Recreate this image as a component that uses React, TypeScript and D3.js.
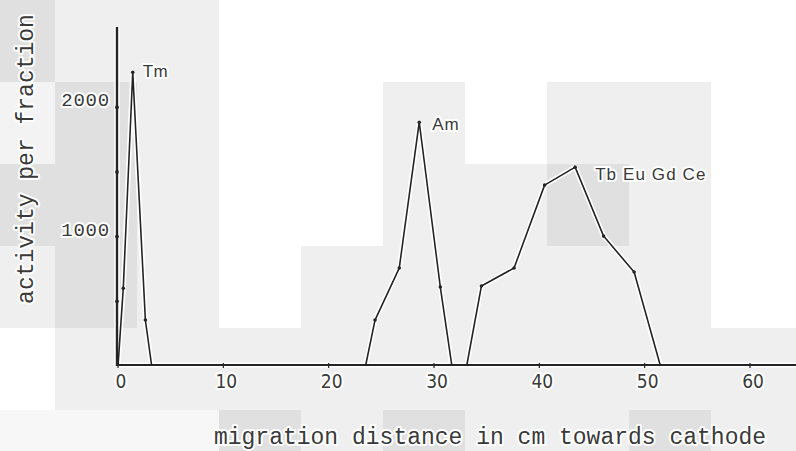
import React from "react";
import * as d3 from "d3";

const WIDTH = 796;
const HEIGHT = 451;

// Fraction positions (cm from start) and measured activity per fraction
const tmDistance = [0, 0.5, 1.4, 2.6, 3.2];
const tmActivity = [0, 600, 2270, 355, 0];

const amDistance = [23.5, 24.4, 26.7, 28.6, 30.6, 31.7];
const amActivity = [0, 355, 757, 1884, 610, 0];

const tbDistance = [33.1, 34.5, 37.6, 40.5, 43.4, 46.1, 49.0, 51.5];
const tbActivity = [0, 618, 757, 1398, 1537, 1004, 726, 0];

const peakNames = ["Tm", "Am", "Tb Eu Gd Ce"];

const xTickValues = [0, 10, 20, 30, 40, 50, 60];
const yTickMarks = [500, 1000, 1500, 2000];
const yTickLabels = [1000, 2000];

const xTitle = "migration distance in cm towards cathode";
const yTitle = "activity per fraction";

// Paper tone tiles behind the plot
const tileX = [0, 55, 137, 219, 301, 383, 465, 547, 629, 711, 796];
const tileY = [0, 82, 164, 246, 328, 410, 451];
const tileRows = [
  "DLLWWWWWWW",
  "VDLWWLWLLW",
  "DDLWWLLDLW",
  "LDLWLLLLLW",
  "WLLLLLLLLL",
  "PPPDLDLLDL",
];
const tileTone: Record<string, string> = {
  D: "#e0e0e0",
  L: "#efefef",
  W: "#ffffff",
  V: "#f3f3f3",
  P: "#f7f7f7",
};

const x = d3.scaleLinear().domain([0, 60]).range([118, 750]);
const y = d3.scaleLinear().domain([0, 2620]).range([366, 27]);

const series = [
  { name: peakNames[0], distance: tmDistance, activity: tmActivity, dx: 10, dy: 5, spacing: 0.5 },
  { name: peakNames[1], distance: amDistance, activity: amActivity, dx: 13, dy: 8, spacing: 0.8 },
  { name: peakNames[2], distance: tbDistance, activity: tbActivity, dx: 20, dy: 13, spacing: 1.1 },
];

const line = d3
  .line<[number, number]>()
  .x((d) => x(d[0]))
  .y((d) => y(d[1]));

const INK = "#242424";
const TEXT = "#3a3a3a";
const MONO = "'Liberation Mono', 'DejaVu Sans Mono', monospace";
const NARROW = "'Liberation Sans Narrow', 'DejaVu Sans Condensed', sans-serif";
const SANS = "'Liberation Sans', Arial, sans-serif";

const halo = {
  stroke: "#ffffff",
  strokeWidth: 4,
  paintOrder: "stroke" as const,
  strokeLinejoin: "round" as const,
};

export default function App() {
  const axisY = y(0) - 1;
  const axisX = x(0) - 1;

  return (
    <svg
      width={WIDTH}
      height={HEIGHT}
      viewBox={`0 0 ${WIDTH} ${HEIGHT}`}
      style={{ position: "fixed", left: 0, top: 0, display: "block", background: "#fff" }}
    >
      <g>
        {tileRows.map((row, ri) =>
          row.split("").map((c, ci) => (
            <rect
              key={`t${ri}-${ci}`}
              x={tileX[ci]}
              y={tileY[ri]}
              width={tileX[ci + 1] - tileX[ci]}
              height={tileY[ri + 1] - tileY[ri]}
              fill={tileTone[c]}
            />
          ))
        )}
      </g>

      {/* white halo under axes and curves */}
      <g>
        <line x1={axisX} x2={WIDTH} y1={axisY} y2={axisY} stroke="#fff" strokeWidth={5} />
        <line x1={axisX} x2={axisX} y1={axisY} y2={y(2620)} stroke="#fff" strokeWidth={5.5} />
      </g>
      {series.map((s) => {
        const pts = s.distance.map((d, i) => [d, s.activity[i]] as [number, number]);
        return (
          <path
            key={`h-${s.name}`}
            d={line(pts) || ""}
            fill="none"
            stroke="#fff"
            strokeWidth={5}
            strokeLinejoin="round"
          />
        );
      })}

      {/* axes */}
      <g>
        <line x1={axisX} x2={WIDTH} y1={axisY} y2={axisY} stroke={INK} strokeWidth={2} />
        <line x1={axisX} x2={axisX} y1={axisY + 1} y2={y(2620)} stroke={INK} strokeWidth={2.4} />
        {xTickValues.map((t) => (
          <line key={`xt${t}`} x1={x(t)} x2={x(t)} y1={axisY - 2} y2={axisY + 3} stroke={INK} strokeWidth={1.2} />
        ))}
        {yTickMarks.map((t) => (
          <circle key={`yt${t}`} cx={axisX} cy={y(t)} r={1.9} fill={INK} />
        ))}
      </g>

      {/* activity curves */}
      {series.map((s) => {
        const pts = s.distance.map((d, i) => [d, s.activity[i]] as [number, number]);
        return (
          <g key={`l-${s.name}`}>
            <path d={line(pts) || ""} fill="none" stroke={INK} strokeWidth={1.6} strokeLinejoin="round" />
            {pts.slice(1, -1).map((p, i) => (
              <circle key={i} cx={x(p[0])} cy={y(p[1])} r={1.8} fill={INK} />
            ))}
          </g>
        );
      })}

      {/* peak annotations */}
      {series.map((s) => {
        let pi = 0;
        s.activity.forEach((v, i) => {
          if (v > s.activity[pi]) pi = i;
        });
        return (
          <text
            key={`a-${s.name}`}
            x={x(s.distance[pi]) + s.dx}
            y={y(s.activity[pi]) + s.dy}
            fontFamily={SANS}
            fontSize={17}
            letterSpacing={s.spacing}
            fill={TEXT}
            style={halo}
          >
            {s.name}
          </text>
        );
      })}

      {/* tick labels */}
      {xTickValues.map((t) => (
        <text
          key={`xl${t}`}
          x={x(t) + 3}
          y={388}
          textAnchor="middle"
          fontFamily={NARROW}
          fontSize={19}
          fill={TEXT}
          style={halo}
        >
          {t}
        </text>
      ))}
      {yTickLabels.map((t) => (
        <text
          key={`yl${t}`}
          x={110}
          y={y(t) - 1}
          textAnchor="end"
          fontFamily={MONO}
          fontSize={19}
          letterSpacing={0.8}
          fill={TEXT}
          style={halo}
        >
          {t}
        </text>
      ))}

      {/* axis titles */}
      <text
        transform={`translate(33,159) rotate(-90)`}
        textAnchor="middle"
        fontFamily={MONO}
        fontSize={23}
        fill={TEXT}
        style={halo}
      >
        {yTitle}
      </text>
      <text
        x={490}
        y={444}
        textAnchor="middle"
        fontFamily={MONO}
        fontSize={23}
        fill={TEXT}
        style={halo}
      >
        {xTitle}
      </text>
    </svg>
  );
}
